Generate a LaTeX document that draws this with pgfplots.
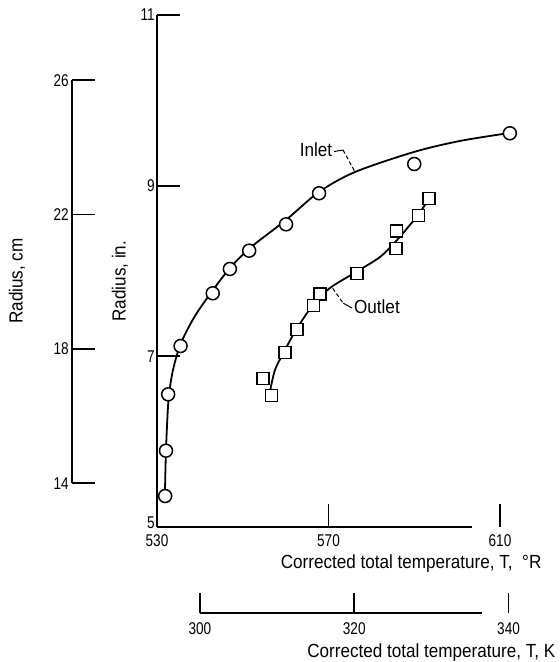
\documentclass[border=0pt]{standalone}
\usepackage{fontspec}
\setmainfont{Liberation Sans}
\newfontfamily\narrow{Liberation Sans}[FakeStretch=0.8]
\newfontfamily\labfont{Liberation Sans}[FakeStretch=0.9]
\usepackage{pgfplots}
\pgfplotsset{compat=1.18}

\begin{document}
\begin{tikzpicture}
\useasboundingbox (-157pt,-135pt) rectangle (403pt,527pt);
\pgfplotsset{
 every axis/.append style={
   scale only axis, clip=false,
   /pgf/number format/assume math mode=true,
   tick label style={font=\narrow\fontsize{17}{17}\selectfont},
   label style={font=\labfont\fontsize{19}{22}\selectfont},
   axis line style={line width=1.8pt},
   major tick style={line width=1.8pt, black},
   tick align=inside,
   major tick length=23pt,
 }
}
% main axis (inches, deg R)
\begin{axis}[at={(0pt,0pt)}, anchor=south west, width=343pt, height=512pt,
  xmin=530, xmax=610, ymin=5, ymax=11,
  axis x line*=bottom, axis y line*=left,
  x axis line style={draw=none},
  xtick={530,570,610}, ytick={7,9,11},
  extra y ticks={5},
  extra y tick style={yticklabel style={yshift=4pt}},
  xticklabel style={inner sep=0pt, anchor=north, yshift=-7pt},
  yticklabel style={inner xsep=2pt, inner ysep=0pt},
  xlabel={Corrected total temperature, T, \hspace{0.25em}°R},
  ylabel={Radius, in.},
  xlabel style={at={(axis description cs:1.131,-0.0801)}, anchor=base east},
  ylabel style={at={(axis description cs:-0.108,0.48)}, anchor=center},
]
\draw[line width=1.8pt] (axis cs:530,5) -- (axis cs:603.5,5);
% inlet curve
\addplot[line width=1.8pt, smooth, tension=0.5] coordinates {
 (531.87,5.434) (532.10,5.902) (532.68,6.488) (533.73,6.840) (535.60,7.156)
 (538.86,7.473) (543.06,7.777) (547.03,8.035) (551.69,8.270) (560.09,8.598)
 (567.78,8.926) (576.18,9.160) (589.94,9.395) (600.67,9.524) (612.33,9.618)
};
% outlet curve
\addplot[line width=1.8pt, smooth, tension=0.5] coordinates {
 (556.36,6.586) (557.52,6.840) (559.85,7.074) (562.42,7.309) (566.38,7.602)
 (570.35,7.801) (576.41,7.988) (582.01,8.164) (585.98,8.363) (590.88,8.656)
 (593.21,8.832)
};
% inlet data
\addplot[only marks, mark=*, mark size=6.5pt, mark options={fill=white, draw=black, line width=1.5pt}] coordinates {
 (612.3,9.614) (590.0,9.254) (567.8,8.911) (560.1,8.547) (551.5,8.238)
 (547.0,8.024) (543.0,7.739) (535.5,7.121) (532.6,6.555) (532.1,5.894)
 (531.9,5.363)
};
% outlet data
\addplot[only marks, mark=square*, mark size=6pt, mark options={fill=white, draw=black, line width=1.5pt}] coordinates {
 (593.4,8.848) (591.0,8.648) (585.9,8.469) (585.7,8.266) (576.6,7.973)
 (568.0,7.731) (566.5,7.593) (562.6,7.317) (559.9,7.047) (554.7,6.743)
 (556.7,6.539)
};
\node[font=\labfont\fontsize{19}{22}\selectfont, anchor=center] at (axis cs:567.08,9.418) {Inlet};
\draw[line width=1pt] (axis cs:571.3,9.40) -- (axis cs:573.4,9.418);
\draw[line width=1pt, dash pattern=on 4pt off 2.5pt] (axis cs:573.4,9.418) -- (axis cs:576.18,9.16);
\draw[line width=1pt, dash pattern=on 4pt off 2.5pt] (axis cs:570.98,7.797) -- (axis cs:573.45,7.622);
\draw[line width=1pt] (axis cs:573.45,7.622) -- (axis cs:575.5,7.567);
\node[font=\labfont\fontsize{19}{22}\selectfont, anchor=west, inner sep=1pt] at (axis cs:575.7,7.578) {Outlet};
\end{axis}
% cm axis
\begin{axis}[at={(-85pt,43.67pt)}, anchor=south west, width=10pt, height=403.15pt,
  xmin=0, xmax=1, ymin=14, ymax=26,
  hide x axis, axis y line*=left,
  ytick={14,18,22,26},
  yticklabel style={inner xsep=3pt},
  ylabel={Radius, cm},
  ylabel style={at={(axis description cs:-5.5,0.502)}, anchor=center},
]
\end{axis}
% kelvin axis
\begin{axis}[at={(42.875pt,-86pt)}, anchor=south west, width=308.7pt, height=1pt,
  xmin=300, xmax=340, ymin=0, ymax=1,
  hide y axis, axis x line*=bottom,
  x axis line style={draw=none},
  xtick={300,320,340}, major tick length=20pt,
  xticklabel style={inner sep=0pt, anchor=north, yshift=-9pt},
  xlabel={Corrected total temperature, T, K},
  xlabel style={at={(axis description cs:1.163,-45)}, anchor=base east},
]
\draw[line width=1.8pt] (axis cs:300,0) -- (axis cs:336.6,0);
\end{axis}
\end{tikzpicture}
\end{document}
